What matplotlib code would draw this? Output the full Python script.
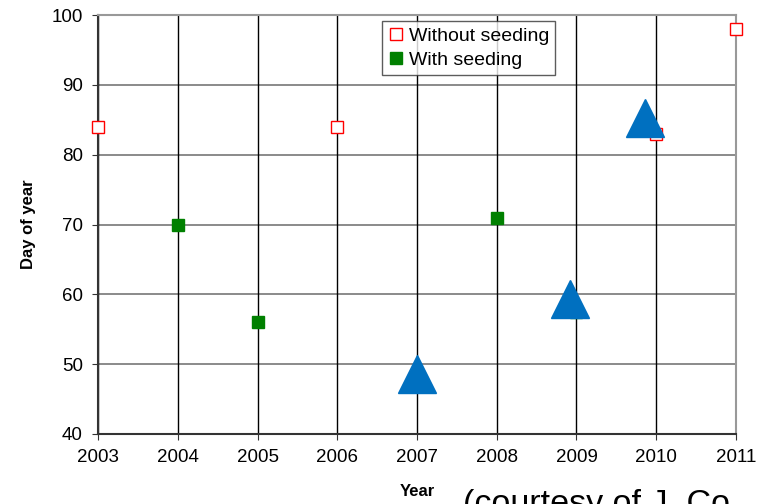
import matplotlib.pyplot as plt

plt.rcParams['font.family'] = ['Liberation Sans', 'DejaVu Sans']

# data
years_without = [2003, 2006, 2010, 2011]
days_without = [84, 84, 83, 98]

years_with = [2004, 2005, 2008, 2009]
days_with = [70, 56, 71, 57.5]

years_tri = [2007, 2008.92, 2009.86]
days_tri = [48.6, 59.4, 85.3]

xticks = list(range(2003, 2012))
yticks = list(range(40, 101, 10))

fig = plt.figure(figsize=(7.61, 5.04), dpi=100)
ax = fig.add_axes([0.1288, 0.1389, 0.8383, 0.8313])

ax.plot(years_without, days_without, linestyle='none', marker='s', markersize=8,
        markerfacecolor='white', markeredgecolor='#ff0000', markeredgewidth=1.0,
        label='Without seeding', clip_on=False, zorder=3)
ax.plot(years_with, days_with, linestyle='none', marker='s', markersize=8.5,
        color='#008000', label='With seeding', clip_on=False, zorder=3)
ax.plot(years_tri, days_tri, linestyle='none', marker='^', markersize=27,
        color='#0070c0', zorder=4)

ax.set_xlim(2003, 2011)
ax.set_ylim(40, 100)
ax.set_xticks(xticks)
ax.set_yticks(yticks)
ax.tick_params(labelsize=13.5, direction='out', length=4, color='#333333', pad=7)

for y in yticks:
    ax.axhline(y, color='#777777', lw=1.2, zorder=1)
for x in xticks:
    ax.axvline(x, color='black', lw=1.0, zorder=1)

for s in ['left', 'bottom']:
    ax.spines[s].set_color('#333333')
for s in ['top', 'right']:
    ax.spines[s].set_color('#999999')
for s in ax.spines.values():
    s.set_linewidth(1.5)

ax.set_xlabel('Year', fontsize=12, fontweight='bold', labelpad=13)
ax.set_ylabel('Day of year', fontsize=12, fontweight='bold', labelpad=11)

leg = ax.legend(loc='upper left', bbox_to_anchor=(0.445, 0.985), fontsize=14,
                frameon=True, fancybox=False, borderpad=0.3, handletextpad=0.3,
                handlelength=0.8, labelspacing=0.35, borderaxespad=0)
leg.get_frame().set_edgecolor('#333333')
leg.get_frame().set_linewidth(1.0)

# caption runs off the bottom edge, as in the original
fig.text(463 / 761, 1 - 513 / 504, '(courtesy of J. Co', fontsize=24.5,
         va='baseline', ha='left')

fig.savefig('out.png', dpi=100)
